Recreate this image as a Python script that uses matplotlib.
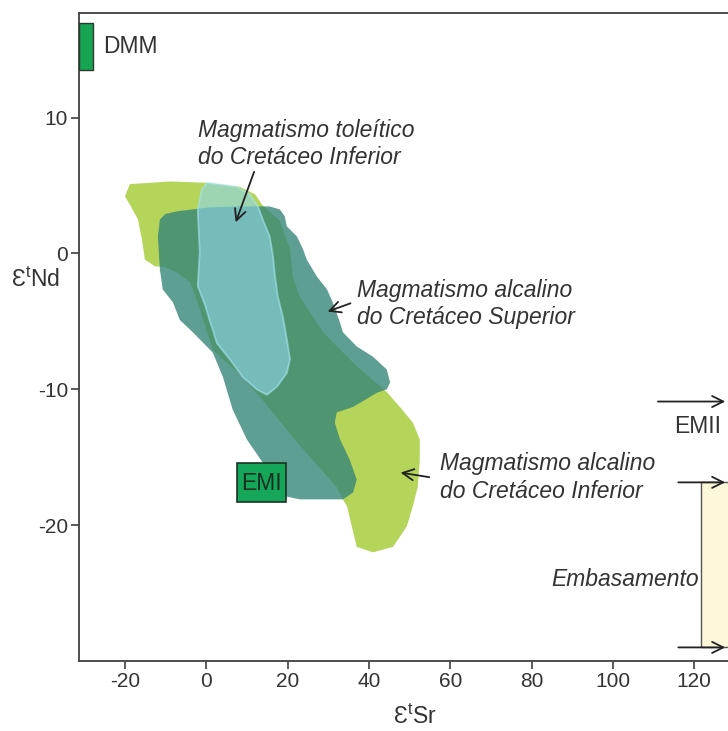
import matplotlib
matplotlib.use('Agg')
import matplotlib.pyplot as plt
from matplotlib.patches import Polygon, Rectangle

plt.rcParams['font.family'] = ['Liberation Sans', 'DejaVu Sans']
plt.rcParams['axes.unicode_minus'] = False
plt.rcParams['mathtext.fontset'] = 'custom'
plt.rcParams['mathtext.rm'] = 'Liberation Sans'

# Field outlines (eSr, eNd)
alc_inf_x = [-18.8, -8.9, 0.2, 8.3, 12.0, 13.7, 18.1, 20.6, 21.3, 23.0, 28.7, 37.0, 44.4, 47.6, 50.8,
             52.5, 52.5, 52.0, 50.8, 49.3, 45.9, 41.0, 37.0, 35.8, 34.6, 33.6, 32.1, 22.3, 13.9, 8.3,
             1.6, -1.6, -4.0, -7.2, -10.2, -12.6, -15.1, -15.8, -16.8, -18.6, -20.0]
alc_inf_y = [5.1, 5.3, 5.2, 4.9, 4.35, 3.6, 2.4, 0.3, -1.7, -3.2, -5.8, -8.3, -10.2, -11.3, -12.45,
             -13.7, -15.2, -17.2, -18.6, -20.1, -21.6, -22.0, -21.6, -20.1, -18.6, -18.1, -17.2, -13.9, -10.8, -8.9,
             -7.1, -4.1, -2.1, -1.4, -1.0, -0.95, -0.45, 1.0, 2.5, 3.5, 4.2]

alc_sup_x = [-11.4, -10.1, -7.2, 0.9, 8.3, 15.6, 18.1, 19.3, 19.8, 22.3, 23.8, 24.7, 27.2, 29.7, 31.1,
             32.9, 33.6, 37.0, 41.0, 44.4, 45.2, 44.4, 42.0, 36.1, 32.1, 31.6, 32.9, 35.3, 37.0, 36.1,
             33.6, 27.9, 23.0, 19.8, 15.0, 13.9, 10.0, 6.5, 4.1, 1.6, -3.3, -6.5, -8.2, -10.7, -11.4, -11.9]
alc_sup_y = [2.5, 2.9, 3.1, 3.4, 3.46, 3.46, 3.24, 2.73, 2.0, 1.25, 0.3, -0.45, -1.7, -2.65, -3.6,
             -5.1, -5.8, -6.85, -7.6, -8.55, -9.5, -10.0, -10.25, -11.3, -11.7, -12.45, -13.7, -15.2, -16.65, -17.6,
             -18.1, -18.1, -18.1, -17.9, -15.8, -15.4, -13.7, -11.5, -9.1, -7.3, -5.8, -4.9, -3.6, -2.65, -1.2, 1.25]

tol_x = [-1.1, 0.2, 2.6, 7.5, 10.7, 12.7, 13.9, 15.6, 16.4, 16.9, 17.6, 18.8, 19.8, 20.6, 19.8,
         17.4, 14.9, 12.4, 9.0, 5.8, 2.6, 1.6, 0.9, -0.3, -2.1, -1.6, -2.1]
tol_y = [4.7, 5.2, 5.1, 4.9, 4.35, 3.46, 2.5, 1.25, -0.2, -1.7, -3.2, -4.6, -6.3, -7.8, -8.8,
         -9.8, -10.4, -10.0, -9.1, -7.8, -6.6, -5.6, -5.0, -3.8, -2.4, 0.1, 3.2]

# end-member boxes
dmm_x = [-27.9]
dmm_y = [13.5, 17.0]
emi_x = [7.45, 19.5]
emi_y = [-18.3, -15.4]
emba_x = [121.7]
emba_y = [-29.0, -16.85]
emii_y = -10.9

x_ticks = [-20, 0, 20, 40, 60, 80, 100, 120]
y_ticks = [-20, -10, 0, 10]
x_lim = (-31.3, 128.3)
y_lim = (-30.0, 17.7)

txt = '#333333'
fs = 15      # tick labels
fl = 16.5    # annotations

fig = plt.figure(figsize=(7.28, 7.31), dpi=100)
ax = fig.add_axes([79 / 728, 70 / 731, 1 - 79 / 728, 648 / 731])
ax.set_xlim(*x_lim)
ax.set_ylim(*y_lim)

ax.add_patch(Polygon(list(zip(alc_inf_x, alc_inf_y)), closed=True, facecolor='#b4d45a',
                     edgecolor='none', zorder=1))
ax.add_patch(Polygon(list(zip(alc_sup_x, alc_sup_y)), closed=True, facecolor='#368678',
                     alpha=0.8, edgecolor='none', zorder=2))
ax.add_patch(Polygon(list(zip(tol_x, tol_y)), closed=True, facecolor='#8fd7ee', alpha=0.6,
                     edgecolor='#a8e6f2', lw=1.3, zorder=3))

# DMM
ax.add_patch(Rectangle((x_lim[0], dmm_y[0]), dmm_x[0] - x_lim[0], dmm_y[1] - dmm_y[0],
                       facecolor='#16a352', edgecolor='#2a3a30', lw=1.0, zorder=4))
ax.text(-25.4, (dmm_y[0] + dmm_y[1]) / 2, 'DMM', fontsize=fl, color=txt, va='center', ha='left')

# EMI
ax.add_patch(Rectangle((emi_x[0], emi_y[0]), emi_x[1] - emi_x[0], emi_y[1] - emi_y[0],
                       facecolor='#15a659', edgecolor='#1c3326', lw=1.2, zorder=4))
ax.text((emi_x[0] + emi_x[1]) / 2, (emi_y[0] + emi_y[1]) / 2 - 0.1, 'EMI', fontsize=fl,
        color='#15301f', ha='center', va='center', zorder=5)

# Embasamento
ax.add_patch(Rectangle((emba_x[0], emba_y[0]), 20, emba_y[1] - emba_y[0],
                       facecolor='#fdf8d8', edgecolor='#555555', lw=1.0, zorder=1))
arrow_kw = dict(arrowstyle='->', color='#222222', lw=1.3, mutation_scale=20)
for yy in emba_y:
    ax.annotate('', xy=(x_lim[1], yy), xytext=(115.4, yy), arrowprops=arrow_kw, zorder=5)
ax.text(121.2, -24.0, 'Embasamento', fontsize=fl, color=txt, style='italic', ha='right', va='center')

# EMII
ax.annotate('', xy=(x_lim[1], emii_y), xytext=(110.4, emii_y), arrowprops=arrow_kw)
ax.text(120.9, -12.75, 'EMII', fontsize=fl, color=txt, ha='center', va='center')

# field labels
ax.text(-2.1, 8.05, 'Magmatismo toleítico\ndo Cretáceo Inferior', fontsize=fl, color=txt,
        style='italic', ha='left', va='center', linespacing=1.25)
ax.annotate('', xy=(7.0, 2.1), xytext=(12.0, 6.2), arrowprops=arrow_kw, zorder=6)

ax.text(37.0, -3.72, 'Magmatismo alcalino\ndo Cretáceo Superior', fontsize=fl, color=txt,
        style='italic', ha='left', va='center', linespacing=1.25)
ax.annotate('', xy=(29.2, -4.35), xytext=(36.1, -3.6), arrowprops=arrow_kw, zorder=6)

ax.text(57.4, -16.5, 'Magmatismo alcalino\ndo Cretáceo Inferior', fontsize=fl, color=txt,
        style='italic', ha='left', va='center', linespacing=1.25)
ax.annotate('', xy=(47.1, -16.1), xytext=(55.5, -16.5), arrowprops=arrow_kw, zorder=6)

# axes styling
for side in ['left', 'bottom', 'top']:
    ax.spines[side].set_color('#404040')
    ax.spines[side].set_linewidth(1.3)
ax.spines['right'].set_visible(False)
ax.set_xticks(x_ticks)
ax.set_yticks(y_ticks)
ax.tick_params(direction='out', length=6, width=1.2, color='#404040', labelsize=fs,
               labelcolor=txt, pad=2)

ax.text(-42.0, -1.95, 'Ɛ$^{\\mathrm{t}}$Nd', fontsize=fl, color=txt, ha='center', va='center',
        clip_on=False)
ax.text(51.3, -34.1, 'Ɛ$^{\\mathrm{t}}$Sr', fontsize=fl, color=txt, ha='center', va='center',
        clip_on=False)

fig.savefig('out.png', dpi=100)
